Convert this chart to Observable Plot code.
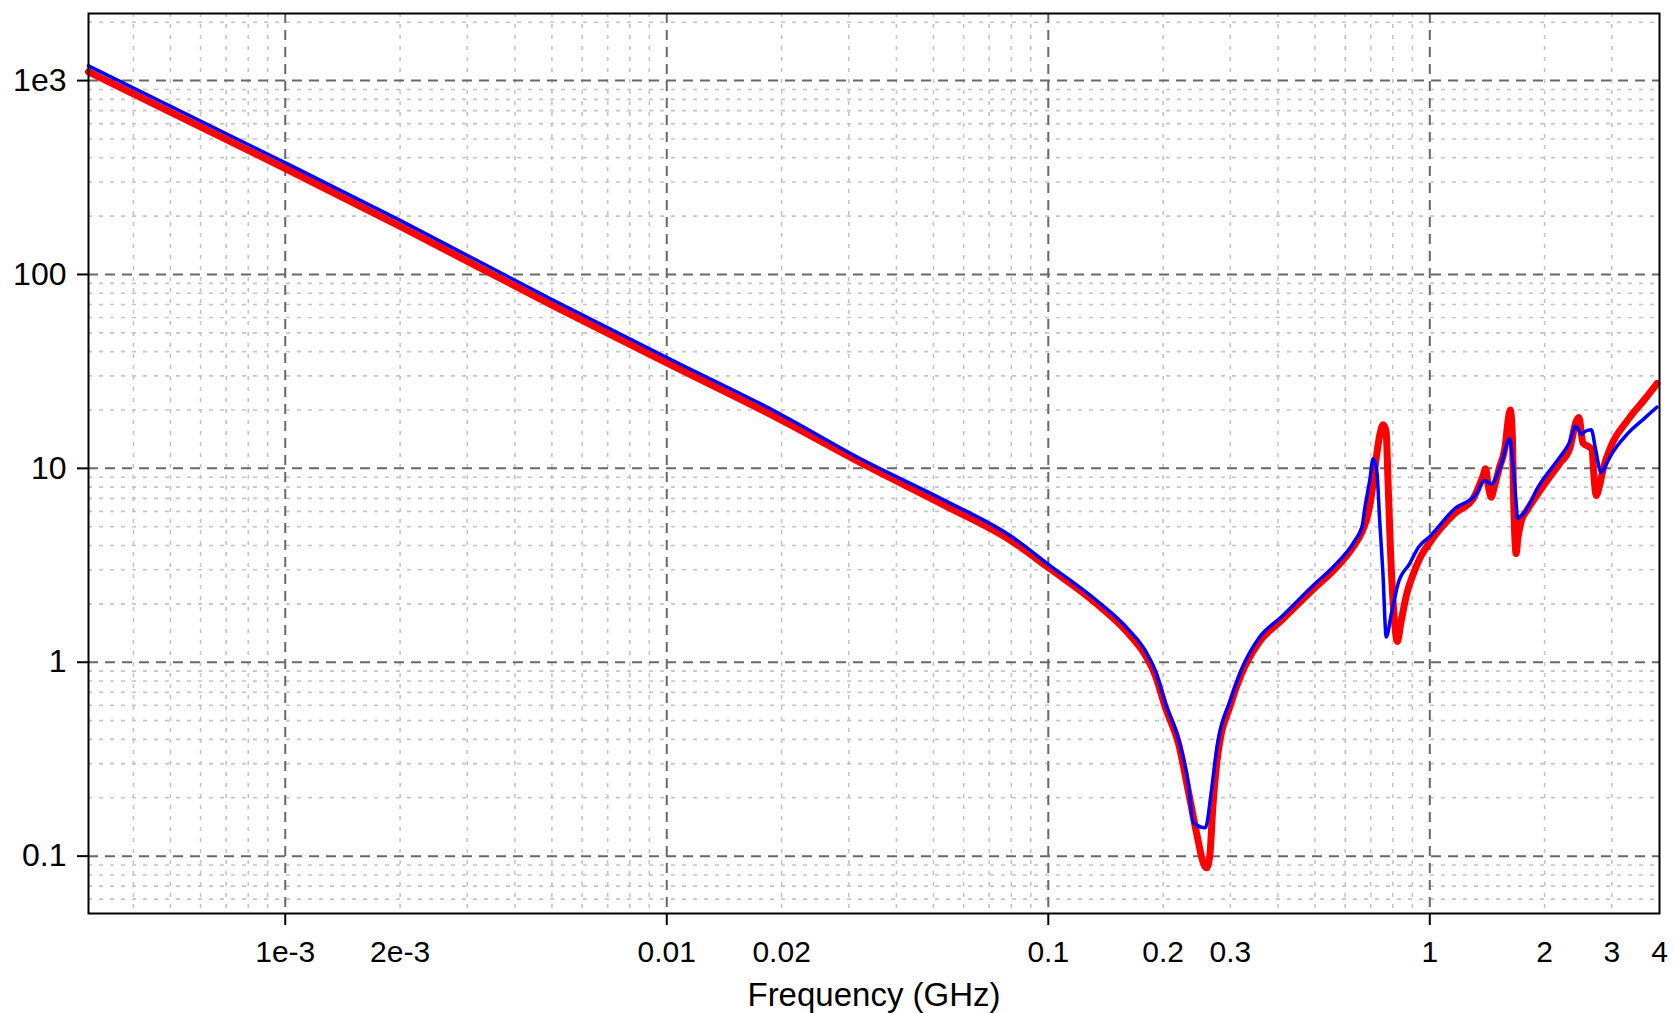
<!DOCTYPE html>
<html><head><meta charset="utf-8">
<script src="https://cdn.jsdelivr.net/npm/d3@7"></script>
<script src="https://cdn.jsdelivr.net/npm/@observablehq/plot@0.6"></script>
<style>body{margin:0;background:#fff}</style>
</head><body><div id="chart"></div>
<script>
// Frequency (GHz) and impedance values — red trace
const redFreq = [3.05e-4,0.001,0.002,0.005,0.01,0.0197,0.0325,0.0538,0.0801,0.1,0.1332,0.1626,0.18,0.191,0.203,0.2195,0.233,0.245,0.255,0.26,0.265,0.27,0.278,0.3,0.32,0.358,0.408,0.499,0.557,0.636,0.664,0.69,0.705,0.72,0.74,0.755,0.768,0.778,0.79,0.805,0.822,0.84,0.87,0.905,0.946,1.0,1.162,1.3,1.38,1.4,1.425,1.449,1.475,1.52,1.58,1.6,1.625,1.645,1.66,1.684,1.7,1.74,1.8,1.92,2.05,2.19,2.33,2.42,2.46,2.52,2.6,2.66,2.7,2.73,2.78,2.85,2.985,3.3,3.65,3.94];
const redZ    = [1110,352,177,69.5,35,18.0,10.6,6.4,4.22,3.08,2.02,1.40,1.08,0.85,0.58,0.38,0.215,0.13,0.092,0.087,0.1,0.18,0.33,0.6,0.86,1.28,1.64,2.42,2.95,4.05,4.7,5.9,7.5,10.5,15.0,16.8,15.5,8.0,3.5,1.8,1.28,1.6,2.25,2.85,3.5,4.15,5.85,7.0,9.2,9.95,8.0,7.1,8.0,10.0,13.5,17,20,15,6.5,3.63,4.3,5.4,6.1,7.4,8.9,10.6,12.8,17.5,18.3,13.5,13.0,12.5,8.5,7.25,8.0,10.0,13.0,17.7,22.6,27.4];
// blue trace
const blueFreq = [3.05e-4,0.001,0.002,0.005,0.01,0.0197,0.0325,0.0538,0.0801,0.1,0.1332,0.1626,0.18,0.191,0.203,0.2195,0.233,0.24,0.258,0.2677,0.276,0.302,0.32,0.358,0.408,0.499,0.557,0.636,0.664,0.676,0.696,0.71,0.726,0.739,0.753,0.769,0.793,0.826,0.885,0.935,1.0,1.162,1.318,1.392,1.449,1.538,1.62,1.645,1.68,1.7,1.72,1.778,1.92,2.19,2.32,2.415,2.5,2.55,2.65,2.72,2.81,2.9,2.985,3.3,3.65,3.94];
const blueZ    = [1190,377,190,74.3,37.3,19.2,11.1,6.8,4.45,3.2,2.1,1.47,1.14,0.9,0.61,0.40,0.235,0.149,0.14,0.218,0.351,0.66,0.906,1.35,1.71,2.53,3.09,4.24,4.98,6.3,8.7,11.2,9.75,5.38,2.97,1.35,1.78,2.55,3.22,3.93,4.45,6.19,7.3,8.65,8.3,10.5,14.2,11.5,7.0,5.5,5.6,6.0,7.98,11.4,13.5,16.5,15.0,15.5,15.8,12.5,9.55,10.5,11.7,15.1,18.1,20.7];

// axes
const xTicks      = [0.001,0.002,0.01,0.02,0.1,0.2,0.3,1,2,3,4];
const xTickLabels = ["1e-3","2e-3","0.01","0.02","0.1","0.2","0.3","1","2","3","4"];
const xMajor      = [0.001,0.01,0.1,1];
const yTicks      = [0.1,1,10,100,1000];
const yTickLabels = ["0.1","1","10","100","1e3"];
const mantissas   = [2,3,4,5,6,7,8,9];
const xDecades    = [1e-4,1e-3,1e-2,1e-1,1];
const yDecades    = [0.01,0.1,1,10,100,1000];
const xLabel      = "Frequency (GHz)";
const xDomain     = [3.05e-4, 4];
const yDomain     = [0.0506, 2218];

const xMinor = xDecades.flatMap(d => mantissas.map(m => m * d)).filter(v => v > xDomain[0] && v < xDomain[1]);
const yMinor = yDecades.flatMap(d => mantissas.map(m => m * d)).filter(v => v > yDomain[0] && v < yDomain[1]);

const red  = redFreq.map((f, i) => ({f, z: redZ[i]}));
const blue = blueFreq.map((f, i) => ({f, z: blueZ[i]}));

const font = "'Liberation Sans', Arial, sans-serif";

const chart = Plot.plot({
  width: 1675, height: 1013,
  marginLeft: 88, marginRight: 16, marginTop: 13, marginBottom: 100,
  style: {fontFamily: font, background: "#fff", color: "#000"},
  x: {type: "log", domain: xDomain},
  y: {type: "log", domain: yDomain},
  marks: [
    Plot.gridX({ticks: xMinor, stroke: "#c4c4c4", strokeOpacity: 1, strokeWidth: 1.6, strokeDasharray: "4,7"}),
    Plot.gridY({ticks: yMinor, stroke: "#c4c4c4", strokeOpacity: 1, strokeWidth: 1.6, strokeDasharray: "4,7"}),
    Plot.gridX({ticks: xMajor, stroke: "#686868", strokeOpacity: 1, strokeWidth: 2, strokeDasharray: "10,7"}),
    Plot.gridY({ticks: yTicks, stroke: "#686868", strokeOpacity: 1, strokeWidth: 2, strokeDasharray: "10,7"}),
    Plot.line(red,  {x: "f", y: "z", stroke: "#ff0000", strokeWidth: 7, strokeLinejoin: "round", strokeLinecap: "round", curve: "monotone-x"}),
    Plot.line(blue, {x: "f", y: "z", stroke: "#0000ff", strokeWidth: 3.5, strokeLinejoin: "round", strokeLinecap: "round", curve: "monotone-x"}),
    Plot.frame({stroke: "#000", strokeWidth: 2}),
    Plot.axisX({ticks: xMajor, tickSize: 12, strokeWidth: 2, tickFormat: () => "", label: null}),
    Plot.axisY({ticks: yTicks, tickSize: 11, strokeWidth: 2, tickFormat: () => "", label: null}),
    Plot.text(xTicks, {x: d => d, text: (d, i) => xTickLabels[i], frameAnchor: "bottom", dy: 27, lineAnchor: "top", fontSize: 30}),
    Plot.text(yTicks, {y: d => d, text: (d, i) => yTickLabels[i], frameAnchor: "left", dx: -22, textAnchor: "end", fontSize: 32}),
    Plot.text([xLabel], {text: d => d, frameAnchor: "bottom", dy: 92, lineAnchor: "bottom", fontSize: 33})
  ]
});
document.getElementById("chart").appendChild(chart);
</script>
</body></html>
